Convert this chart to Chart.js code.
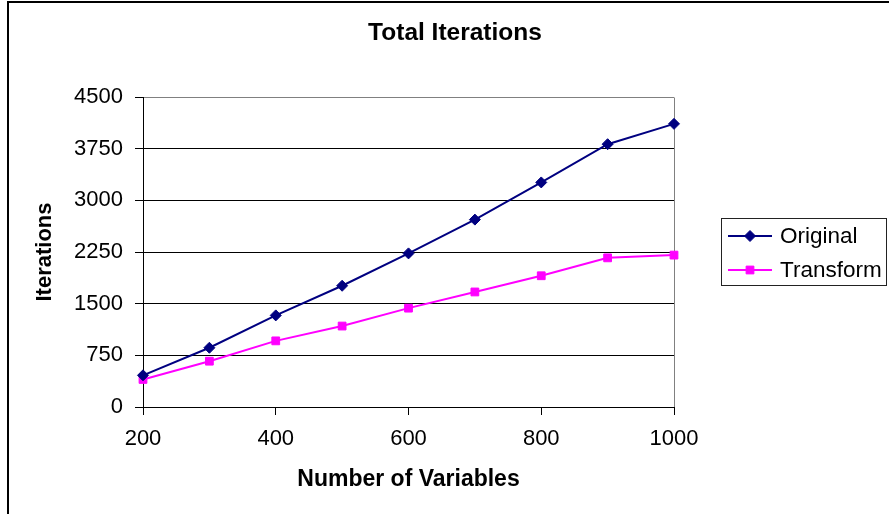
<!DOCTYPE html>
<html>
<head>
<meta charset="utf-8">
<script src="https://cdn.jsdelivr.net/npm/chart.js@4/dist/chart.umd.min.js"></script>
<style>
  html, body { margin: 0; padding: 0; background: #ffffff; }
  #wrap { width: 889px; height: 514px; }
</style>
</head>
<body>
<div id="wrap"><canvas id="c" width="889" height="514"></canvas></div>
<script>
// Problem sizes and iteration counts
const variables = [200, 300, 400, 500, 600, 700, 800, 900, 1000];
const original  = [460, 860, 1330, 1760, 2230, 2720, 3260, 3815, 4110];
const transform = [400, 665, 960, 1175, 1435, 1670, 1905, 2165, 2205];

// Axis ticks and texts
const xTickValues = [200, 400, 600, 800, 1000];
const yTickValues = [0, 750, 1500, 2250, 3000, 3750, 4500];
const seriesNames = ['Original', 'Transform'];
const chartTitle = 'Total Iterations';
const xAxisTitle = 'Number of Variables';
const yAxisTitle = 'Iterations';

const FONT = '"Liberation Sans", Arial, sans-serif';

const toPoints = (ys) => variables.map((x, i) => ({ x: x, y: ys[i] }));

// Outer frame, chart title, plot border and boxed legend
const decorations = {
  id: 'decorations',
  beforeDatasetsDraw(chart) {
    const { ctx, chartArea: a } = chart;
    ctx.save();
    ctx.strokeStyle = '#808080';
    ctx.lineWidth = 1;
    ctx.beginPath();
    ctx.moveTo(Math.round(a.right) + 0.5, Math.round(a.top) + 0.5);
    ctx.lineTo(Math.round(a.right) + 0.5, Math.round(a.bottom));
    ctx.stroke();
    ctx.restore();
  },
  afterDraw(chart) {
    const { ctx } = chart;
    ctx.save();
    // outer frame
    ctx.strokeStyle = '#000';
    ctx.lineWidth = 2;
    ctx.beginPath();
    ctx.moveTo(8, 514);
    ctx.lineTo(8, 2);
    ctx.lineTo(889, 2);
    ctx.stroke();

    // title
    ctx.fillStyle = '#000';
    ctx.font = 'bold 24.5px ' + FONT;
    ctx.textAlign = 'center';
    ctx.textBaseline = 'middle';
    ctx.fillText(chartTitle, 455, 33);

    // legend box
    ctx.strokeStyle = '#222';
    ctx.lineWidth = 1;
    ctx.strokeRect(721.5, 218.5, 165, 67);
    const rows = [236, 270];
    chart.data.datasets.forEach((ds, i) => {
      const y = rows[i];
      ctx.strokeStyle = ds.borderColor;
      ctx.lineWidth = ds.borderWidth;
      ctx.beginPath();
      ctx.moveTo(728, y);
      ctx.lineTo(772, y);
      ctx.stroke();
      ctx.fillStyle = ds.pointBackgroundColor;
      ctx.strokeStyle = ds.pointBorderColor;
      ctx.lineWidth = ds.pointBorderWidth;
      Chart.helpers.drawPoint(ctx, {
        pointStyle: ds.pointStyle,
        radius: ds.pointRadius,
        borderWidth: ds.pointBorderWidth,
        rotation: 0
      }, 750, y);
      ctx.fillStyle = '#000';
      ctx.font = '22.5px ' + FONT;
      ctx.textAlign = 'left';
      ctx.textBaseline = 'middle';
      ctx.fillText(ds.label, 780, y + 1);
    });
    ctx.restore();
  }
};

new Chart(document.getElementById('c'), {
  type: 'line',
  data: {
    datasets: [
      {
        label: seriesNames[0],
        data: toPoints(original),
        borderColor: '#000080',
        backgroundColor: '#000080',
        borderWidth: 2,
        pointStyle: 'rectRot',
        pointRadius: 5.5,
        pointBackgroundColor: '#000080',
        pointBorderColor: '#000080',
        pointBorderWidth: 1,
        tension: 0,
        clip: false
      },
      {
        label: seriesNames[1],
        data: toPoints(transform),
        borderColor: '#FF00FF',
        backgroundColor: '#FF00FF',
        borderWidth: 2,
        pointStyle: 'rect',
        pointRadius: 5.5,
        pointBackgroundColor: '#FF00FF',
        pointBorderColor: '#FF00FF',
        pointBorderWidth: 1,
        tension: 0,
        clip: false
      }
    ]
  },
  options: {
    responsive: false,
    animation: false,
    devicePixelRatio: 1,
    layout: { padding: { left: 10, top: 97, right: 215, bottom: 21 } },
    plugins: {
      legend: { display: false },
      title: { display: false },
      tooltip: { enabled: false }
    },
    scales: {
      x: {
        type: 'linear',
        min: 200,
        max: 1000,
        afterBuildTicks: (s) => { s.ticks = xTickValues.map(v => ({ value: v })); },
        afterFit: (s) => { s.height = 86; },
        ticks: {
          color: '#000',
          font: { family: FONT, size: 22 },
          padding: 11,
          maxRotation: 0,
          callback: (v) => String(v)
        },
        grid: {
          drawOnChartArea: false,
          drawTicks: true,
          tickLength: 8,
          tickColor: '#000',
          color: '#000'
        },
        border: { display: true, color: '#000', width: 1 },
        title: {
          display: true,
          text: xAxisTitle,
          color: '#000',
          font: { family: FONT, size: 23, weight: 'bold' },
          padding: { top: 0, bottom: 0 }
        }
      },
      y: {
        type: 'linear',
        min: 0,
        max: 4500,
        afterBuildTicks: (s) => { s.ticks = yTickValues.map(v => ({ value: v })); },
        afterFit: (s) => { s.width = 133; },
        ticks: {
          color: '#000',
          font: { family: FONT, size: 22 },
          padding: 12,
          callback: (v) => String(v)
        },
        grid: {
          drawTicks: true,
          tickLength: 8,
          tickColor: '#000',
          color: (c) => (c.tick && c.tick.value === 4500 ? '#808080' : '#000'),
          lineWidth: 1
        },
        border: { display: true, color: '#000', width: 1 },
        title: {
          display: true,
          text: yAxisTitle,
          color: '#000',
          font: { family: FONT, size: 22, weight: 'bold' },
          padding: { top: 22, bottom: 0 }
        }
      }
    }
  },
  plugins: [decorations]
});
</script>
</body>
</html>
